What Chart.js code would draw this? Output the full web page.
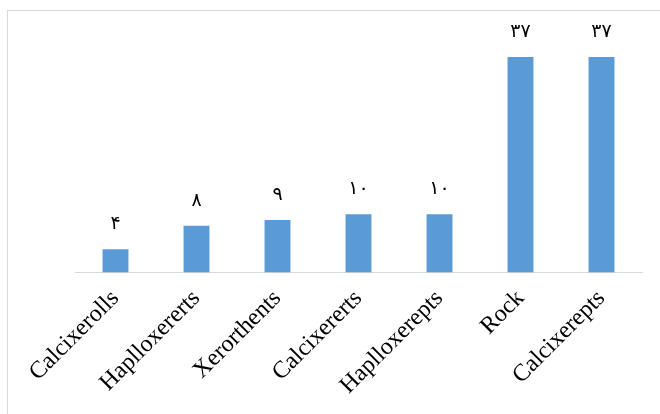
<!DOCTYPE html>
<html>
<head>
<meta charset="utf-8">
<script src="https://cdn.jsdelivr.net/npm/chart.js@4/dist/chart.umd.min.js"></script>
<style>
    html, body { margin: 0; padding: 0; background: #fff; }
    #wrap { position: relative; width: 660px; height: 414px; overflow: hidden; }
    #frame { position: absolute; left: 7px; top: 10px; width: 720px; height: 460px; border: 1px solid #d9d9d9; box-sizing: border-box; }
    #chart { position: absolute; left: 0; top: 0; }
</style>
</head>
<body>
<div id="wrap">
    <div id="frame"></div>
    <canvas id="chart" width="660" height="414"></canvas>
</div>
<script>
const categories = ['Calcixerolls', 'Haplloxererts', 'Xerorthents', 'Calcixererts', 'Haplloxerepts', 'Rock', 'Calcixerepts'];
const counts = [4, 8, 9, 10, 10, 37, 37];

// value labels use Persian digits like the original
const faDigits = ['۰', '۱', '۲', '۳', '۴', '۵', '۶', '۷', '۸', '۹'];
function toPersian(n) {
    return String(n).replace(/[0-9]/g, d => faDigits[+d]);
}

const valueLabels = {
    id: 'valueLabels',
    afterDatasetsDraw(chart) {
        const ctx = chart.ctx;
        const meta = chart.getDatasetMeta(0);
        ctx.save();
        ctx.fillStyle = '#000';
        ctx.font = '19px "DejaVu Sans"';
        ctx.textAlign = 'center';
        ctx.textBaseline = 'alphabetic';
        meta.data.forEach((bar, i) => {
            ctx.fillText(toPersian(counts[i]), bar.x, bar.y - 20);
        });
        ctx.restore();
    }
};

new Chart(document.getElementById('chart'), {
    type: 'bar',
    data: {
        labels: categories,
        datasets: [{
            data: counts,
            backgroundColor: '#5b9bd5',
            barPercentage: 0.64,
            categoryPercentage: 0.5
        }]
    },
    options: {
        responsive: false,
        animation: false,
        layout: { padding: { left: 75, right: 18, top: 57, bottom: 2 } },
        plugins: {
            legend: { display: false },
            tooltip: { enabled: false }
        },
        scales: {
            x: {
                grid: { display: false, drawTicks: false },
                border: { color: '#d9d9d9', width: 1 },
                ticks: {
                    color: '#000',
                    font: { family: '"Liberation Serif"', size: 24 },
                    minRotation: 45,
                    maxRotation: 45,
                    padding: 12
                }
            },
            y: {
                display: false,
                min: 0,
                max: 37
            }
        }
    },
    plugins: [valueLabels]
});
</script>
</body>
</html>
